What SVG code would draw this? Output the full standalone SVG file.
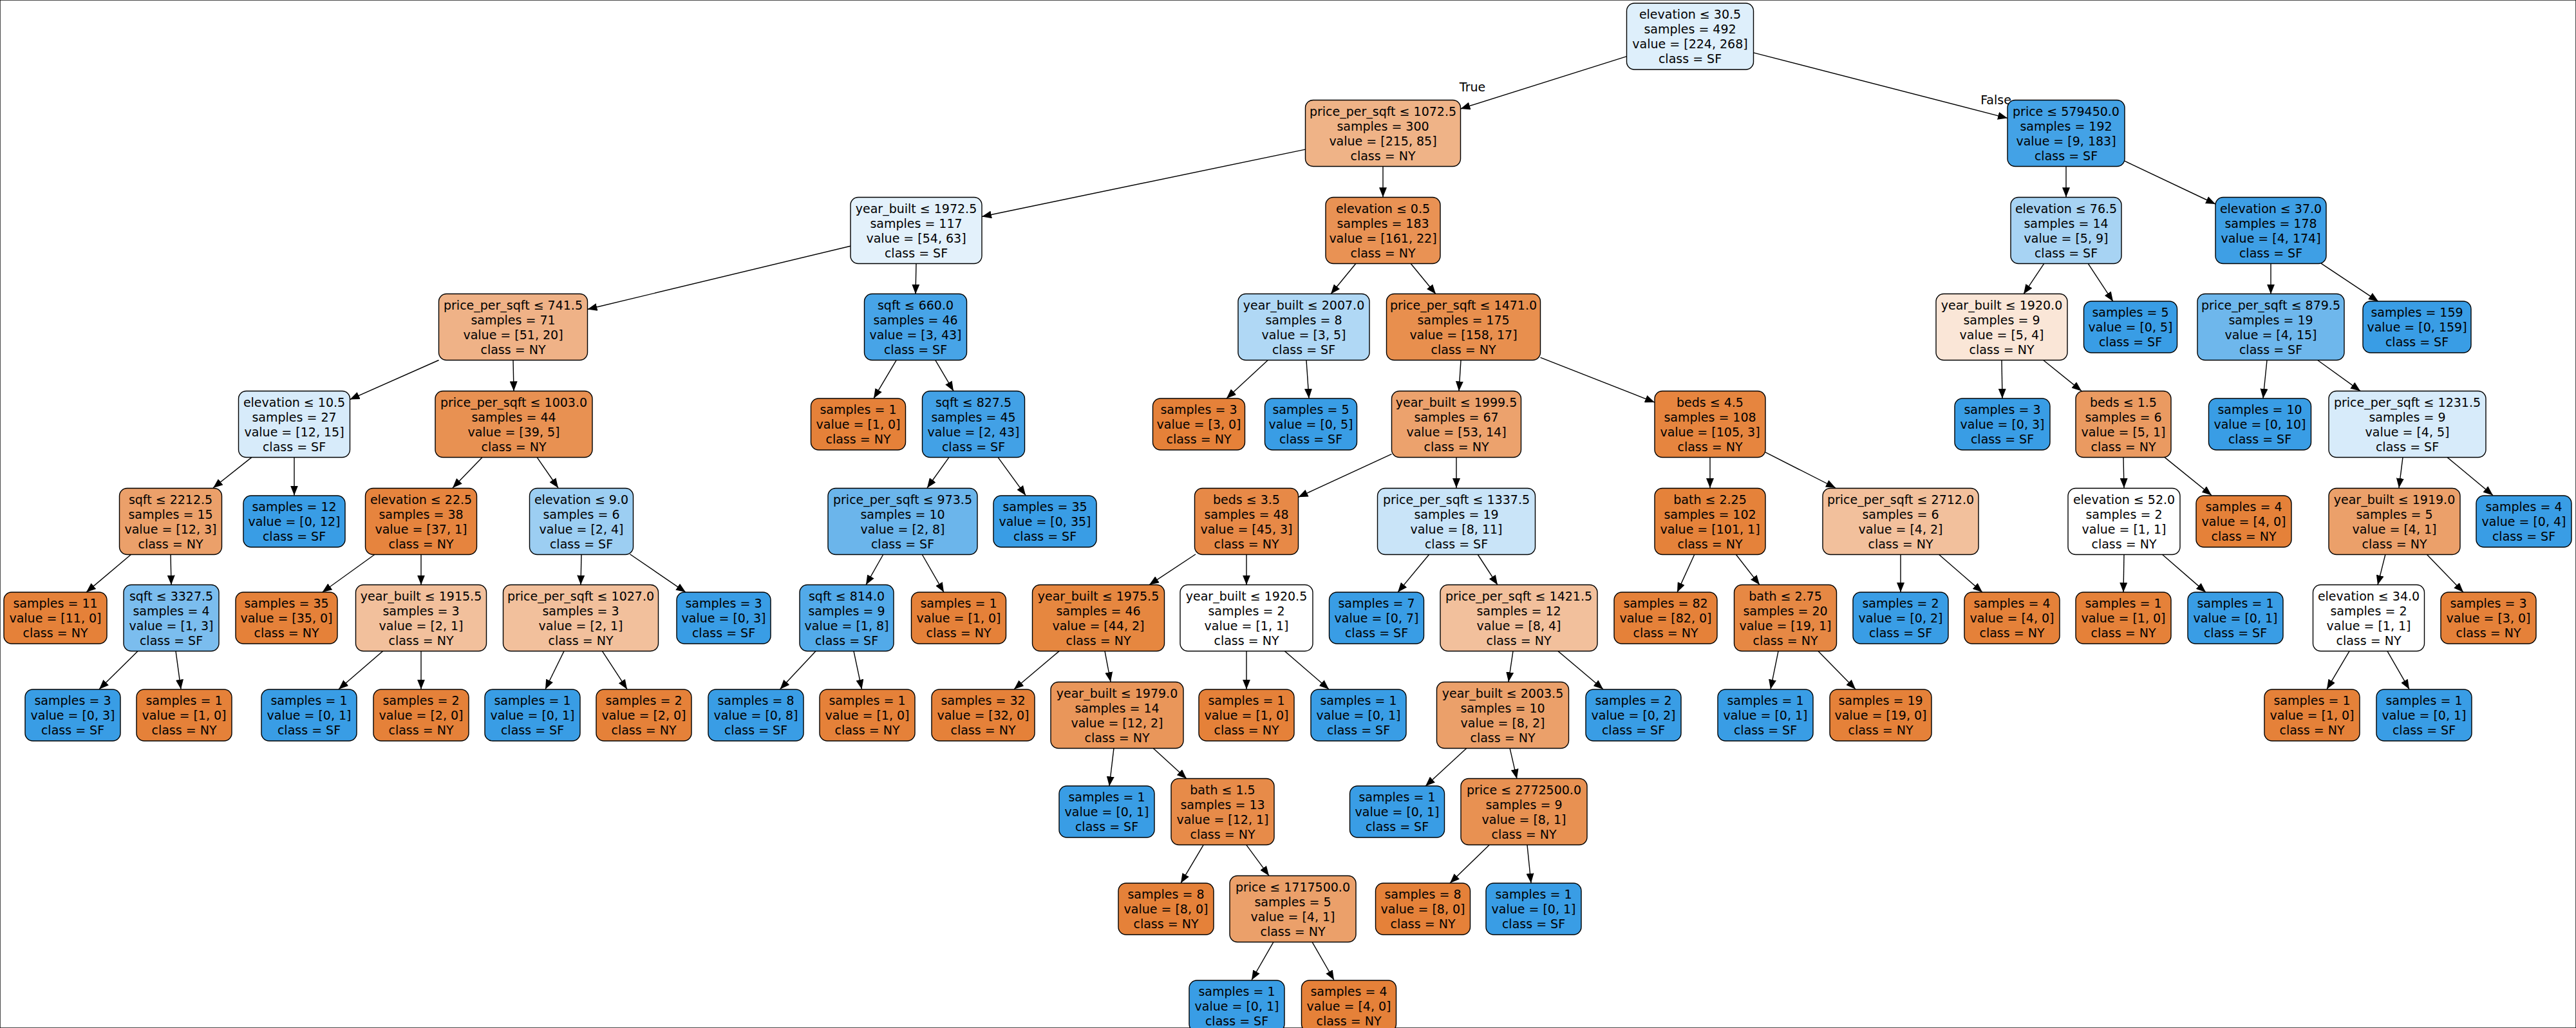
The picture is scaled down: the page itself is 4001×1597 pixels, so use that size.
<svg xmlns="http://www.w3.org/2000/svg" width="4001" height="1597" viewBox="0 0 4001 1597">
<style>
rect{stroke:#000;stroke-width:1.4}
text{font-family:"DejaVu Sans","Liberation Sans",sans-serif;font-size:19px;text-anchor:middle;fill:#000}
.ny{fill:#e58139}.sf{fill:#399de5}.w{fill:#ffffff}
#edges line{stroke:#000;stroke-width:1.4;marker-end:url(#ah)}
</style>
<defs><marker id="ah" markerUnits="userSpaceOnUse" markerWidth="16" markerHeight="12" refX="15" refY="6" orient="auto"><path d="M0,0 L15,6 L0,12 z" fill="#000"/></marker></defs>
<rect x="0" y="0" width="4001" height="1597" fill="#fff" stroke="none"/>
<g id="edges">
<line x1="2526.5" y1="87.6" x2="2268.5" y2="169"/>
<line x1="2723.5" y1="81.9" x2="3118" y2="183.6"/>
<line x1="2027.5" y1="232.1" x2="1525" y2="336.5"/>
<line x1="2148" y1="258.6" x2="2148" y2="306.2"/>
<line x1="3209" y1="258.6" x2="3209" y2="306.2"/>
<line x1="3300" y1="250.2" x2="3441" y2="317"/>
<line x1="1321" y1="382.2" x2="912.5" y2="480.5"/>
<line x1="1423" y1="409.2" x2="1422" y2="456.8"/>
<line x1="2106" y1="409.2" x2="2067" y2="456.8"/>
<line x1="2191" y1="409.2" x2="2230" y2="456.8"/>
<line x1="3175" y1="409.2" x2="3143" y2="456.8"/>
<line x1="3243" y1="409.2" x2="3282" y2="468.3"/>
<line x1="3527" y1="409.2" x2="3527" y2="456.8"/>
<line x1="3605" y1="409.2" x2="3694" y2="468.3"/>
<line x1="681.5" y1="559.5" x2="543.5" y2="620.6"/>
<line x1="797" y1="559.8" x2="798" y2="607.4"/>
<line x1="1392" y1="559.8" x2="1357" y2="618.9"/>
<line x1="1453" y1="559.8" x2="1481" y2="607.4"/>
<line x1="1969" y1="559.8" x2="1905" y2="618.9"/>
<line x1="2029" y1="559.8" x2="2033" y2="618.9"/>
<line x1="2269" y1="559.8" x2="2266" y2="607.4"/>
<line x1="2392.5" y1="555.3" x2="2570" y2="625.1"/>
<line x1="3109" y1="559.8" x2="3110" y2="618.9"/>
<line x1="3174" y1="559.8" x2="3233" y2="607.4"/>
<line x1="3521" y1="559.8" x2="3515" y2="618.9"/>
<line x1="3600" y1="559.8" x2="3666" y2="607.4"/>
<line x1="391" y1="710.4" x2="331" y2="758"/>
<line x1="457" y1="710.4" x2="457" y2="769.5"/>
<line x1="749" y1="710.4" x2="703" y2="758"/>
<line x1="834" y1="710.4" x2="867" y2="758"/>
<line x1="1474" y1="710.4" x2="1440" y2="758"/>
<line x1="1550" y1="710.4" x2="1593" y2="769.5"/>
<line x1="2161.5" y1="705.3" x2="2016.5" y2="772.3"/>
<line x1="2262" y1="710.4" x2="2262" y2="758"/>
<line x1="2656" y1="710.4" x2="2656" y2="758"/>
<line x1="2742" y1="702.7" x2="2851" y2="758"/>
<line x1="3298" y1="710.4" x2="3299" y2="758"/>
<line x1="3362" y1="710.4" x2="3435" y2="769.5"/>
<line x1="3732" y1="710.4" x2="3726" y2="758"/>
<line x1="3801" y1="710.4" x2="3872" y2="769.5"/>
<line x1="204" y1="861" x2="134" y2="920.1"/>
<line x1="265" y1="861" x2="266" y2="908.6"/>
<line x1="582.5" y1="861" x2="500.6" y2="920.1"/>
<line x1="654" y1="861" x2="654" y2="908.6"/>
<line x1="903" y1="861" x2="902" y2="908.6"/>
<line x1="978.6" y1="861" x2="1065" y2="920.1"/>
<line x1="1372" y1="861" x2="1345" y2="908.6"/>
<line x1="1432" y1="861" x2="1466" y2="920.1"/>
<line x1="1857" y1="861" x2="1785" y2="908.6"/>
<line x1="1936" y1="861" x2="1936" y2="908.6"/>
<line x1="2220" y1="861" x2="2171" y2="920.1"/>
<line x1="2295" y1="861" x2="2326" y2="908.6"/>
<line x1="2632" y1="861" x2="2605" y2="920.1"/>
<line x1="2696" y1="861" x2="2733" y2="908.6"/>
<line x1="2952" y1="861" x2="2952" y2="920.1"/>
<line x1="3011" y1="861" x2="3079" y2="920.1"/>
<line x1="3299" y1="861" x2="3298" y2="920.1"/>
<line x1="3358" y1="861" x2="3426" y2="920.1"/>
<line x1="3705" y1="861" x2="3693" y2="908.6"/>
<line x1="3769" y1="861" x2="3826" y2="920.1"/>
<line x1="214" y1="1011.6" x2="154" y2="1070.7"/>
<line x1="273" y1="1011.6" x2="281" y2="1070.7"/>
<line x1="594.5" y1="1011.6" x2="526" y2="1070.7"/>
<line x1="654" y1="1011.6" x2="654" y2="1070.7"/>
<line x1="876" y1="1011.6" x2="847" y2="1070.7"/>
<line x1="935.5" y1="1011.6" x2="974" y2="1070.7"/>
<line x1="1267" y1="1011.6" x2="1211.5" y2="1070.7"/>
<line x1="1326" y1="1011.6" x2="1338.5" y2="1070.7"/>
<line x1="1645" y1="1011.6" x2="1575" y2="1070.7"/>
<line x1="1716" y1="1011.6" x2="1725" y2="1059.2"/>
<line x1="1936" y1="1011.6" x2="1936" y2="1070.7"/>
<line x1="1995.5" y1="1011.6" x2="2064" y2="1070.7"/>
<line x1="2350" y1="1011.6" x2="2343" y2="1059.2"/>
<line x1="2420" y1="1011.6" x2="2490" y2="1070.7"/>
<line x1="2762" y1="1011.6" x2="2750" y2="1070.7"/>
<line x1="2824" y1="1011.6" x2="2882" y2="1070.7"/>
<line x1="3649" y1="1011.6" x2="3614" y2="1070.7"/>
<line x1="3708" y1="1011.6" x2="3742" y2="1070.7"/>
<line x1="1730" y1="1162.2" x2="1723" y2="1221.3"/>
<line x1="1791" y1="1162.2" x2="1843" y2="1209.8"/>
<line x1="2278" y1="1162.2" x2="2214" y2="1221.3"/>
<line x1="2345" y1="1162.2" x2="2356" y2="1209.8"/>
<line x1="1869" y1="1312.8" x2="1834" y2="1371.9"/>
<line x1="1936" y1="1312.8" x2="1971" y2="1360.4"/>
<line x1="2313" y1="1312.8" x2="2252" y2="1371.9"/>
<line x1="2372" y1="1312.8" x2="2378" y2="1371.9"/>
<line x1="1978" y1="1463.4" x2="1944" y2="1522.5"/>
<line x1="2038" y1="1463.4" x2="2072" y2="1522.5"/>
</g>
<text x="2287" y="142">True</text>
<text x="3100" y="162">False</text>
<g id="n0"><rect x="2526.5" y="5" width="197" height="103" rx="12" fill="#deeffb"/><text x="2625" y="29"><tspan x="2625">elevation ≤ 30.5</tspan><tspan x="2625" dy="23">samples = 492</tspan><tspan x="2625" dy="23">value = [224, 268]</tspan><tspan x="2625" dy="23">class = SF</tspan></text></g>
<g id="n1"><rect x="2027.5" y="155.5" width="241" height="103" rx="12" fill="#efb387"/><text x="2148" y="179.5"><tspan x="2148">price_per_sqft ≤ 1072.5</tspan><tspan x="2148" dy="23">samples = 300</tspan><tspan x="2148" dy="23">value = [215, 85]</tspan><tspan x="2148" dy="23">class = NY</tspan></text></g>
<g id="n2"><rect x="3118" y="155.5" width="182" height="103" rx="12" fill="#43a2e6"/><text x="3209" y="179.5"><tspan x="3209">price ≤ 579450.0</tspan><tspan x="3209" dy="23">samples = 192</tspan><tspan x="3209" dy="23">value = [9, 183]</tspan><tspan x="3209" dy="23">class = SF</tspan></text></g>
<g id="n3"><rect x="1321" y="306.5" width="204" height="103" rx="12" fill="#e3f1fb"/><text x="1423" y="330.5"><tspan x="1423">year_built ≤ 1972.5</tspan><tspan x="1423" dy="23">samples = 117</tspan><tspan x="1423" dy="23">value = [54, 63]</tspan><tspan x="1423" dy="23">class = SF</tspan></text></g>
<g id="n4"><rect x="2059" y="306.5" width="178" height="103" rx="12" fill="#e99254"/><text x="2148" y="330.5"><tspan x="2148">elevation ≤ 0.5</tspan><tspan x="2148" dy="23">samples = 183</tspan><tspan x="2148" dy="23">value = [161, 22]</tspan><tspan x="2148" dy="23">class = NY</tspan></text></g>
<g id="n5"><rect x="3123" y="306.5" width="172" height="103" rx="12" fill="#a7d3f3"/><text x="3209" y="330.5"><tspan x="3209">elevation ≤ 76.5</tspan><tspan x="3209" dy="23">samples = 14</tspan><tspan x="3209" dy="23">value = [5, 9]</tspan><tspan x="3209" dy="23">class = SF</tspan></text></g>
<g id="n6"><rect x="3441" y="306.5" width="172" height="103" rx="12" fill="#3e9fe5"/><text x="3527" y="330.5"><tspan x="3527">elevation ≤ 37.0</tspan><tspan x="3527" dy="23">samples = 178</tspan><tspan x="3527" dy="23">value = [4, 174]</tspan><tspan x="3527" dy="23">class = SF</tspan></text></g>
<g id="n7"><rect x="681.5" y="456.5" width="231" height="103" rx="12" fill="#efb287"/><text x="797" y="480.5"><tspan x="797">price_per_sqft ≤ 741.5</tspan><tspan x="797" dy="23">samples = 71</tspan><tspan x="797" dy="23">value = [51, 20]</tspan><tspan x="797" dy="23">class = NY</tspan></text></g>
<g id="n8"><rect x="1342.5" y="456.5" width="159" height="103" rx="12" fill="#47a4e7"/><text x="1422" y="480.5"><tspan x="1422">sqft ≤ 660.0</tspan><tspan x="1422" dy="23">samples = 46</tspan><tspan x="1422" dy="23">value = [3, 43]</tspan><tspan x="1422" dy="23">class = SF</tspan></text></g>
<g id="n9"><rect x="1923" y="456.5" width="204" height="103" rx="12" fill="#b0d8f5"/><text x="2025" y="480.5"><tspan x="2025">year_built ≤ 2007.0</tspan><tspan x="2025" dy="23">samples = 8</tspan><tspan x="2025" dy="23">value = [3, 5]</tspan><tspan x="2025" dy="23">class = SF</tspan></text></g>
<g id="n10"><rect x="2153.5" y="456.5" width="239" height="103" rx="12" fill="#e88f4e"/><text x="2273" y="480.5"><tspan x="2273">price_per_sqft ≤ 1471.0</tspan><tspan x="2273" dy="23">samples = 175</tspan><tspan x="2273" dy="23">value = [158, 17]</tspan><tspan x="2273" dy="23">class = NY</tspan></text></g>
<g id="n11"><rect x="3007" y="456.5" width="204" height="103" rx="12" fill="#fae6d7"/><text x="3109" y="480.5"><tspan x="3109">year_built ≤ 1920.0</tspan><tspan x="3109" dy="23">samples = 9</tspan><tspan x="3109" dy="23">value = [5, 4]</tspan><tspan x="3109" dy="23">class = NY</tspan></text></g>
<g id="n12"><rect class="sf" x="3236.5" y="468" width="145" height="80" rx="12"/><text x="3309" y="492"><tspan x="3309">samples = 5</tspan><tspan x="3309" dy="23">value = [0, 5]</tspan><tspan x="3309" dy="23">class = SF</tspan></text></g>
<g id="n13"><rect x="3413" y="456.5" width="228" height="103" rx="12" fill="#6eb7ec"/><text x="3527" y="480.5"><tspan x="3527">price_per_sqft ≤ 879.5</tspan><tspan x="3527" dy="23">samples = 19</tspan><tspan x="3527" dy="23">value = [4, 15]</tspan><tspan x="3527" dy="23">class = SF</tspan></text></g>
<g id="n14"><rect class="sf" x="3670" y="468" width="168" height="80" rx="12"/><text x="3754" y="492"><tspan x="3754">samples = 159</tspan><tspan x="3754" dy="23">value = [0, 159]</tspan><tspan x="3754" dy="23">class = SF</tspan></text></g>
<g id="n15"><rect x="370.5" y="607.5" width="173" height="103" rx="12" fill="#d7ebfa"/><text x="457" y="631.5"><tspan x="457">elevation ≤ 10.5</tspan><tspan x="457" dy="23">samples = 27</tspan><tspan x="457" dy="23">value = [12, 15]</tspan><tspan x="457" dy="23">class = SF</tspan></text></g>
<g id="n16"><rect x="676" y="607.5" width="244" height="103" rx="12" fill="#e89152"/><text x="798" y="631.5"><tspan x="798">price_per_sqft ≤ 1003.0</tspan><tspan x="798" dy="23">samples = 44</tspan><tspan x="798" dy="23">value = [39, 5]</tspan><tspan x="798" dy="23">class = NY</tspan></text></g>
<g id="n17"><rect class="ny" x="1259.5" y="619" width="147" height="80" rx="12"/><text x="1333" y="643"><tspan x="1333">samples = 1</tspan><tspan x="1333" dy="23">value = [1, 0]</tspan><tspan x="1333" dy="23">class = NY</tspan></text></g>
<g id="n18"><rect x="1432.5" y="607.5" width="159" height="103" rx="12" fill="#42a1e6"/><text x="1512" y="631.5"><tspan x="1512">sqft ≤ 827.5</tspan><tspan x="1512" dy="23">samples = 45</tspan><tspan x="1512" dy="23">value = [2, 43]</tspan><tspan x="1512" dy="23">class = SF</tspan></text></g>
<g id="n19"><rect class="ny" x="1790.5" y="619" width="143" height="80" rx="12"/><text x="1862" y="643"><tspan x="1862">samples = 3</tspan><tspan x="1862" dy="23">value = [3, 0]</tspan><tspan x="1862" dy="23">class = NY</tspan></text></g>
<g id="n20"><rect class="sf" x="1964.5" y="619" width="143" height="80" rx="12"/><text x="2036" y="643"><tspan x="2036">samples = 5</tspan><tspan x="2036" dy="23">value = [0, 5]</tspan><tspan x="2036" dy="23">class = SF</tspan></text></g>
<g id="n21"><rect x="2161.5" y="607.5" width="201" height="103" rx="12" fill="#eca26d"/><text x="2262" y="631.5"><tspan x="2262">year_built ≤ 1999.5</tspan><tspan x="2262" dy="23">samples = 67</tspan><tspan x="2262" dy="23">value = [53, 14]</tspan><tspan x="2262" dy="23">class = NY</tspan></text></g>
<g id="n22"><rect x="2570" y="607.5" width="172" height="103" rx="12" fill="#e6853f"/><text x="2656" y="631.5"><tspan x="2656">beds ≤ 4.5</tspan><tspan x="2656" dy="23">samples = 108</tspan><tspan x="2656" dy="23">value = [105, 3]</tspan><tspan x="2656" dy="23">class = NY</tspan></text></g>
<g id="n23"><rect class="sf" x="3036" y="619" width="148" height="80" rx="12"/><text x="3110" y="643"><tspan x="3110">samples = 3</tspan><tspan x="3110" dy="23">value = [0, 3]</tspan><tspan x="3110" dy="23">class = SF</tspan></text></g>
<g id="n24"><rect x="3224" y="607.5" width="148" height="103" rx="12" fill="#ea9a61"/><text x="3298" y="631.5"><tspan x="3298">beds ≤ 1.5</tspan><tspan x="3298" dy="23">samples = 6</tspan><tspan x="3298" dy="23">value = [5, 1]</tspan><tspan x="3298" dy="23">class = NY</tspan></text></g>
<g id="n25"><rect class="sf" x="3430.5" y="619" width="159" height="80" rx="12"/><text x="3510" y="643"><tspan x="3510">samples = 10</tspan><tspan x="3510" dy="23">value = [0, 10]</tspan><tspan x="3510" dy="23">class = SF</tspan></text></g>
<g id="n26"><rect x="3617" y="607.5" width="244" height="103" rx="12" fill="#d7ebfa"/><text x="3739" y="631.5"><tspan x="3739">price_per_sqft ≤ 1231.5</tspan><tspan x="3739" dy="23">samples = 9</tspan><tspan x="3739" dy="23">value = [4, 5]</tspan><tspan x="3739" dy="23">class = SF</tspan></text></g>
<g id="n27"><rect x="185.5" y="758.5" width="159" height="103" rx="12" fill="#eba06a"/><text x="265" y="782.5"><tspan x="265">sqft ≤ 2212.5</tspan><tspan x="265" dy="23">samples = 15</tspan><tspan x="265" dy="23">value = [12, 3]</tspan><tspan x="265" dy="23">class = NY</tspan></text></g>
<g id="n28"><rect class="sf" x="378" y="770" width="158" height="80" rx="12"/><text x="457" y="794"><tspan x="457">samples = 12</tspan><tspan x="457" dy="23">value = [0, 12]</tspan><tspan x="457" dy="23">class = SF</tspan></text></g>
<g id="n29"><rect x="567.5" y="758.5" width="173" height="103" rx="12" fill="#e6843e"/><text x="654" y="782.5"><tspan x="654">elevation ≤ 22.5</tspan><tspan x="654" dy="23">samples = 38</tspan><tspan x="654" dy="23">value = [37, 1]</tspan><tspan x="654" dy="23">class = NY</tspan></text></g>
<g id="n30"><rect x="822.5" y="758.5" width="161" height="103" rx="12" fill="#9ccef2"/><text x="903" y="782.5"><tspan x="903">elevation ≤ 9.0</tspan><tspan x="903" dy="23">samples = 6</tspan><tspan x="903" dy="23">value = [2, 4]</tspan><tspan x="903" dy="23">class = SF</tspan></text></g>
<g id="n31"><rect x="1286" y="758.5" width="232" height="103" rx="12" fill="#6bb5eb"/><text x="1402" y="782.5"><tspan x="1402">price_per_sqft ≤ 973.5</tspan><tspan x="1402" dy="23">samples = 10</tspan><tspan x="1402" dy="23">value = [2, 8]</tspan><tspan x="1402" dy="23">class = SF</tspan></text></g>
<g id="n32"><rect class="sf" x="1543" y="770" width="160" height="80" rx="12"/><text x="1623" y="794"><tspan x="1623">samples = 35</tspan><tspan x="1623" dy="23">value = [0, 35]</tspan><tspan x="1623" dy="23">class = SF</tspan></text></g>
<g id="n33"><rect x="1855.5" y="758.5" width="161" height="103" rx="12" fill="#e78947"/><text x="1936" y="782.5"><tspan x="1936">beds ≤ 3.5</tspan><tspan x="1936" dy="23">samples = 48</tspan><tspan x="1936" dy="23">value = [45, 3]</tspan><tspan x="1936" dy="23">class = NY</tspan></text></g>
<g id="n34"><rect x="2139.5" y="758.5" width="245" height="103" rx="12" fill="#c9e4f8"/><text x="2262" y="782.5"><tspan x="2262">price_per_sqft ≤ 1337.5</tspan><tspan x="2262" dy="23">samples = 19</tspan><tspan x="2262" dy="23">value = [8, 11]</tspan><tspan x="2262" dy="23">class = SF</tspan></text></g>
<g id="n35"><rect x="2570" y="758.5" width="172" height="103" rx="12" fill="#e5823a"/><text x="2656" y="782.5"><tspan x="2656">bath ≤ 2.25</tspan><tspan x="2656" dy="23">samples = 102</tspan><tspan x="2656" dy="23">value = [101, 1]</tspan><tspan x="2656" dy="23">class = NY</tspan></text></g>
<g id="n36"><rect x="2831" y="758.5" width="242" height="103" rx="12" fill="#f2c09c"/><text x="2952" y="782.5"><tspan x="2952">price_per_sqft ≤ 2712.0</tspan><tspan x="2952" dy="23">samples = 6</tspan><tspan x="2952" dy="23">value = [4, 2]</tspan><tspan x="2952" dy="23">class = NY</tspan></text></g>
<g id="n37"><rect class="w" x="3212" y="758.5" width="174" height="103" rx="12"/><text x="3299" y="782.5"><tspan x="3299">elevation ≤ 52.0</tspan><tspan x="3299" dy="23">samples = 2</tspan><tspan x="3299" dy="23">value = [1, 1]</tspan><tspan x="3299" dy="23">class = NY</tspan></text></g>
<g id="n38"><rect class="ny" x="3411" y="770" width="148" height="80" rx="12"/><text x="3485" y="794"><tspan x="3485">samples = 4</tspan><tspan x="3485" dy="23">value = [4, 0]</tspan><tspan x="3485" dy="23">class = NY</tspan></text></g>
<g id="n39"><rect x="3617" y="758.5" width="204" height="103" rx="12" fill="#eba06a"/><text x="3719" y="782.5"><tspan x="3719">year_built ≤ 1919.0</tspan><tspan x="3719" dy="23">samples = 5</tspan><tspan x="3719" dy="23">value = [4, 1]</tspan><tspan x="3719" dy="23">class = NY</tspan></text></g>
<g id="n40"><rect class="sf" x="3846" y="770" width="148" height="80" rx="12"/><text x="3920" y="794"><tspan x="3920">samples = 4</tspan><tspan x="3920" dy="23">value = [0, 4]</tspan><tspan x="3920" dy="23">class = SF</tspan></text></g>
<g id="n41"><rect class="ny" x="6" y="920" width="160" height="80" rx="12"/><text x="86" y="944"><tspan x="86">samples = 11</tspan><tspan x="86" dy="23">value = [11, 0]</tspan><tspan x="86" dy="23">class = NY</tspan></text></g>
<g id="n42"><rect x="192" y="908.5" width="148" height="103" rx="12" fill="#7bbdee"/><text x="266" y="932.5"><tspan x="266">sqft ≤ 3327.5</tspan><tspan x="266" dy="23">samples = 4</tspan><tspan x="266" dy="23">value = [1, 3]</tspan><tspan x="266" dy="23">class = SF</tspan></text></g>
<g id="n43"><rect class="ny" x="366" y="920" width="158" height="80" rx="12"/><text x="445" y="944"><tspan x="445">samples = 35</tspan><tspan x="445" dy="23">value = [35, 0]</tspan><tspan x="445" dy="23">class = NY</tspan></text></g>
<g id="n44"><rect x="552.5" y="908.5" width="203" height="103" rx="12" fill="#f2c09c"/><text x="654" y="932.5"><tspan x="654">year_built ≤ 1915.5</tspan><tspan x="654" dy="23">samples = 3</tspan><tspan x="654" dy="23">value = [2, 1]</tspan><tspan x="654" dy="23">class = NY</tspan></text></g>
<g id="n45"><rect x="781.5" y="908.5" width="241" height="103" rx="12" fill="#f2c09c"/><text x="902" y="932.5"><tspan x="902">price_per_sqft ≤ 1027.0</tspan><tspan x="902" dy="23">samples = 3</tspan><tspan x="902" dy="23">value = [2, 1]</tspan><tspan x="902" dy="23">class = NY</tspan></text></g>
<g id="n46"><rect class="sf" x="1051" y="920" width="146" height="80" rx="12"/><text x="1124" y="944"><tspan x="1124">samples = 3</tspan><tspan x="1124" dy="23">value = [0, 3]</tspan><tspan x="1124" dy="23">class = SF</tspan></text></g>
<g id="n47"><rect x="1242" y="908.5" width="146" height="103" rx="12" fill="#52aae9"/><text x="1315" y="932.5"><tspan x="1315">sqft ≤ 814.0</tspan><tspan x="1315" dy="23">samples = 9</tspan><tspan x="1315" dy="23">value = [1, 8]</tspan><tspan x="1315" dy="23">class = SF</tspan></text></g>
<g id="n48"><rect class="ny" x="1415.5" y="920" width="147" height="80" rx="12"/><text x="1489" y="944"><tspan x="1489">samples = 1</tspan><tspan x="1489" dy="23">value = [1, 0]</tspan><tspan x="1489" dy="23">class = NY</tspan></text></g>
<g id="n49"><rect x="1603.5" y="908.5" width="205" height="103" rx="12" fill="#e68740"/><text x="1706" y="932.5"><tspan x="1706">year_built ≤ 1975.5</tspan><tspan x="1706" dy="23">samples = 46</tspan><tspan x="1706" dy="23">value = [44, 2]</tspan><tspan x="1706" dy="23">class = NY</tspan></text></g>
<g id="n50"><rect class="w" x="1833" y="908.5" width="206" height="103" rx="12"/><text x="1936" y="932.5"><tspan x="1936">year_built ≤ 1920.5</tspan><tspan x="1936" dy="23">samples = 2</tspan><tspan x="1936" dy="23">value = [1, 1]</tspan><tspan x="1936" dy="23">class = NY</tspan></text></g>
<g id="n51"><rect class="sf" x="2064.5" y="920" width="147" height="80" rx="12"/><text x="2138" y="944"><tspan x="2138">samples = 7</tspan><tspan x="2138" dy="23">value = [0, 7]</tspan><tspan x="2138" dy="23">class = SF</tspan></text></g>
<g id="n52"><rect x="2237" y="908.5" width="244" height="103" rx="12" fill="#f2c09c"/><text x="2359" y="932.5"><tspan x="2359">price_per_sqft ≤ 1421.5</tspan><tspan x="2359" dy="23">samples = 12</tspan><tspan x="2359" dy="23">value = [8, 4]</tspan><tspan x="2359" dy="23">class = NY</tspan></text></g>
<g id="n53"><rect class="ny" x="2507" y="920" width="160" height="80" rx="12"/><text x="2587" y="944"><tspan x="2587">samples = 82</tspan><tspan x="2587" dy="23">value = [82, 0]</tspan><tspan x="2587" dy="23">class = NY</tspan></text></g>
<g id="n54"><rect x="2693.5" y="908.5" width="159" height="103" rx="12" fill="#e68844"/><text x="2773" y="932.5"><tspan x="2773">bath ≤ 2.75</tspan><tspan x="2773" dy="23">samples = 20</tspan><tspan x="2773" dy="23">value = [19, 1]</tspan><tspan x="2773" dy="23">class = NY</tspan></text></g>
<g id="n55"><rect class="sf" x="2878" y="920" width="148" height="80" rx="12"/><text x="2952" y="944"><tspan x="2952">samples = 2</tspan><tspan x="2952" dy="23">value = [0, 2]</tspan><tspan x="2952" dy="23">class = SF</tspan></text></g>
<g id="n56"><rect class="ny" x="3051" y="920" width="148" height="80" rx="12"/><text x="3125" y="944"><tspan x="3125">samples = 4</tspan><tspan x="3125" dy="23">value = [4, 0]</tspan><tspan x="3125" dy="23">class = NY</tspan></text></g>
<g id="n57"><rect class="ny" x="3224" y="920" width="148" height="80" rx="12"/><text x="3298" y="944"><tspan x="3298">samples = 1</tspan><tspan x="3298" dy="23">value = [1, 0]</tspan><tspan x="3298" dy="23">class = NY</tspan></text></g>
<g id="n58"><rect class="sf" x="3398" y="920" width="148" height="80" rx="12"/><text x="3472" y="944"><tspan x="3472">samples = 1</tspan><tspan x="3472" dy="23">value = [0, 1]</tspan><tspan x="3472" dy="23">class = SF</tspan></text></g>
<g id="n59"><rect class="w" x="3592.5" y="908.5" width="173" height="103" rx="12"/><text x="3679" y="932.5"><tspan x="3679">elevation ≤ 34.0</tspan><tspan x="3679" dy="23">samples = 2</tspan><tspan x="3679" dy="23">value = [1, 1]</tspan><tspan x="3679" dy="23">class = NY</tspan></text></g>
<g id="n60"><rect class="ny" x="3791" y="920" width="148" height="80" rx="12"/><text x="3865" y="944"><tspan x="3865">samples = 3</tspan><tspan x="3865" dy="23">value = [3, 0]</tspan><tspan x="3865" dy="23">class = NY</tspan></text></g>
<g id="n61"><rect class="sf" x="39" y="1071" width="148" height="80" rx="12"/><text x="113" y="1095"><tspan x="113">samples = 3</tspan><tspan x="113" dy="23">value = [0, 3]</tspan><tspan x="113" dy="23">class = SF</tspan></text></g>
<g id="n62"><rect class="ny" x="212" y="1071" width="148" height="80" rx="12"/><text x="286" y="1095"><tspan x="286">samples = 1</tspan><tspan x="286" dy="23">value = [1, 0]</tspan><tspan x="286" dy="23">class = NY</tspan></text></g>
<g id="n63"><rect class="sf" x="406" y="1071" width="148" height="80" rx="12"/><text x="480" y="1095"><tspan x="480">samples = 1</tspan><tspan x="480" dy="23">value = [0, 1]</tspan><tspan x="480" dy="23">class = SF</tspan></text></g>
<g id="n64"><rect class="ny" x="580" y="1071" width="148" height="80" rx="12"/><text x="654" y="1095"><tspan x="654">samples = 2</tspan><tspan x="654" dy="23">value = [2, 0]</tspan><tspan x="654" dy="23">class = NY</tspan></text></g>
<g id="n65"><rect class="sf" x="753" y="1071" width="148" height="80" rx="12"/><text x="827" y="1095"><tspan x="827">samples = 1</tspan><tspan x="827" dy="23">value = [0, 1]</tspan><tspan x="827" dy="23">class = SF</tspan></text></g>
<g id="n66"><rect class="ny" x="926" y="1071" width="148" height="80" rx="12"/><text x="1000" y="1095"><tspan x="1000">samples = 2</tspan><tspan x="1000" dy="23">value = [2, 0]</tspan><tspan x="1000" dy="23">class = NY</tspan></text></g>
<g id="n67"><rect class="sf" x="1100" y="1071" width="148" height="80" rx="12"/><text x="1174" y="1095"><tspan x="1174">samples = 8</tspan><tspan x="1174" dy="23">value = [0, 8]</tspan><tspan x="1174" dy="23">class = SF</tspan></text></g>
<g id="n68"><rect class="ny" x="1273" y="1071" width="148" height="80" rx="12"/><text x="1347" y="1095"><tspan x="1347">samples = 1</tspan><tspan x="1347" dy="23">value = [1, 0]</tspan><tspan x="1347" dy="23">class = NY</tspan></text></g>
<g id="n69"><rect class="ny" x="1447" y="1071" width="160" height="80" rx="12"/><text x="1527" y="1095"><tspan x="1527">samples = 32</tspan><tspan x="1527" dy="23">value = [32, 0]</tspan><tspan x="1527" dy="23">class = NY</tspan></text></g>
<g id="n70"><rect x="1632" y="1059.5" width="206" height="103" rx="12" fill="#e9965a"/><text x="1735" y="1083.5"><tspan x="1735">year_built ≤ 1979.0</tspan><tspan x="1735" dy="23">samples = 14</tspan><tspan x="1735" dy="23">value = [12, 2]</tspan><tspan x="1735" dy="23">class = NY</tspan></text></g>
<g id="n71"><rect class="ny" x="1862" y="1071" width="148" height="80" rx="12"/><text x="1936" y="1095"><tspan x="1936">samples = 1</tspan><tspan x="1936" dy="23">value = [1, 0]</tspan><tspan x="1936" dy="23">class = NY</tspan></text></g>
<g id="n72"><rect class="sf" x="2036" y="1071" width="148" height="80" rx="12"/><text x="2110" y="1095"><tspan x="2110">samples = 1</tspan><tspan x="2110" dy="23">value = [0, 1]</tspan><tspan x="2110" dy="23">class = SF</tspan></text></g>
<g id="n73"><rect x="2231.5" y="1059.5" width="205" height="103" rx="12" fill="#eba06a"/><text x="2334" y="1083.5"><tspan x="2334">year_built ≤ 2003.5</tspan><tspan x="2334" dy="23">samples = 10</tspan><tspan x="2334" dy="23">value = [8, 2]</tspan><tspan x="2334" dy="23">class = NY</tspan></text></g>
<g id="n74"><rect class="sf" x="2463" y="1071" width="148" height="80" rx="12"/><text x="2537" y="1095"><tspan x="2537">samples = 2</tspan><tspan x="2537" dy="23">value = [0, 2]</tspan><tspan x="2537" dy="23">class = SF</tspan></text></g>
<g id="n75"><rect class="sf" x="2668" y="1071" width="148" height="80" rx="12"/><text x="2742" y="1095"><tspan x="2742">samples = 1</tspan><tspan x="2742" dy="23">value = [0, 1]</tspan><tspan x="2742" dy="23">class = SF</tspan></text></g>
<g id="n76"><rect class="ny" x="2842" y="1071" width="158" height="80" rx="12"/><text x="2921" y="1095"><tspan x="2921">samples = 19</tspan><tspan x="2921" dy="23">value = [19, 0]</tspan><tspan x="2921" dy="23">class = NY</tspan></text></g>
<g id="n77"><rect class="ny" x="3517" y="1071" width="148" height="80" rx="12"/><text x="3591" y="1095"><tspan x="3591">samples = 1</tspan><tspan x="3591" dy="23">value = [1, 0]</tspan><tspan x="3591" dy="23">class = NY</tspan></text></g>
<g id="n78"><rect class="sf" x="3691" y="1071" width="148" height="80" rx="12"/><text x="3765" y="1095"><tspan x="3765">samples = 1</tspan><tspan x="3765" dy="23">value = [0, 1]</tspan><tspan x="3765" dy="23">class = SF</tspan></text></g>
<g id="n79"><rect class="sf" x="1645" y="1221" width="148" height="80" rx="12"/><text x="1719" y="1245"><tspan x="1719">samples = 1</tspan><tspan x="1719" dy="23">value = [0, 1]</tspan><tspan x="1719" dy="23">class = SF</tspan></text></g>
<g id="n80"><rect x="1819" y="1209.5" width="160" height="103" rx="12" fill="#e78b49"/><text x="1899" y="1233.5"><tspan x="1899">bath ≤ 1.5</tspan><tspan x="1899" dy="23">samples = 13</tspan><tspan x="1899" dy="23">value = [12, 1]</tspan><tspan x="1899" dy="23">class = NY</tspan></text></g>
<g id="n81"><rect class="sf" x="2096.5" y="1221" width="147" height="80" rx="12"/><text x="2170" y="1245"><tspan x="2170">samples = 1</tspan><tspan x="2170" dy="23">value = [0, 1]</tspan><tspan x="2170" dy="23">class = SF</tspan></text></g>
<g id="n82"><rect x="2269" y="1209.5" width="196" height="103" rx="12" fill="#e89152"/><text x="2367" y="1233.5"><tspan x="2367">price ≤ 2772500.0</tspan><tspan x="2367" dy="23">samples = 9</tspan><tspan x="2367" dy="23">value = [8, 1]</tspan><tspan x="2367" dy="23">class = NY</tspan></text></g>
<g id="n83"><rect class="ny" x="1737" y="1372" width="148" height="80" rx="12"/><text x="1811" y="1396"><tspan x="1811">samples = 8</tspan><tspan x="1811" dy="23">value = [8, 0]</tspan><tspan x="1811" dy="23">class = NY</tspan></text></g>
<g id="n84"><rect x="1910" y="1360.5" width="196" height="103" rx="12" fill="#eba06a"/><text x="2008" y="1384.5"><tspan x="2008">price ≤ 1717500.0</tspan><tspan x="2008" dy="23">samples = 5</tspan><tspan x="2008" dy="23">value = [4, 1]</tspan><tspan x="2008" dy="23">class = NY</tspan></text></g>
<g id="n85"><rect class="ny" x="2136.5" y="1372" width="147" height="80" rx="12"/><text x="2210" y="1396"><tspan x="2210">samples = 8</tspan><tspan x="2210" dy="23">value = [8, 0]</tspan><tspan x="2210" dy="23">class = NY</tspan></text></g>
<g id="n86"><rect class="sf" x="2308" y="1372" width="148" height="80" rx="12"/><text x="2382" y="1396"><tspan x="2382">samples = 1</tspan><tspan x="2382" dy="23">value = [0, 1]</tspan><tspan x="2382" dy="23">class = SF</tspan></text></g>
<g id="n87"><rect class="sf" x="1847" y="1523" width="148" height="80" rx="12"/><text x="1921" y="1547"><tspan x="1921">samples = 1</tspan><tspan x="1921" dy="23">value = [0, 1]</tspan><tspan x="1921" dy="23">class = SF</tspan></text></g>
<g id="n88"><rect class="ny" x="2021.5" y="1523" width="147" height="80" rx="12"/><text x="2095" y="1547"><tspan x="2095">samples = 4</tspan><tspan x="2095" dy="23">value = [4, 0]</tspan><tspan x="2095" dy="23">class = NY</tspan></text></g>
</svg>
